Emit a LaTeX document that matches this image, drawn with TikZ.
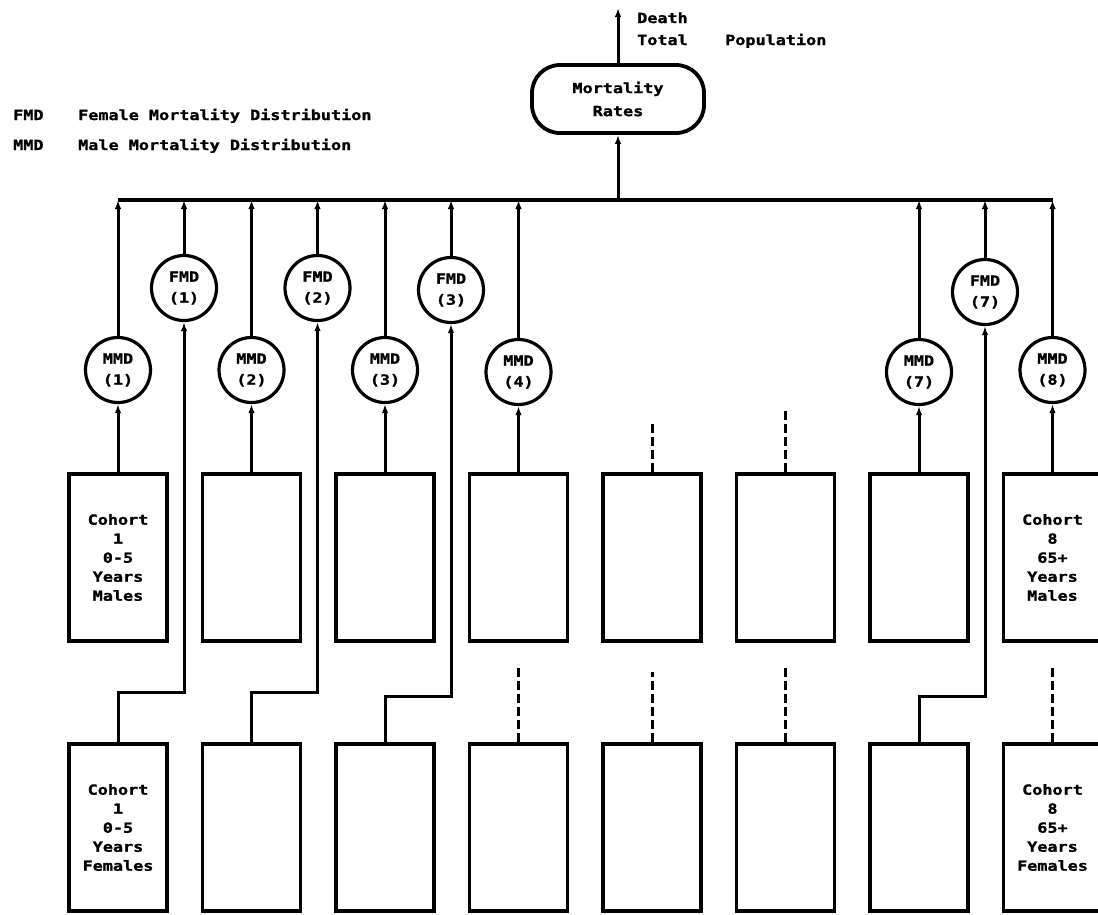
\documentclass[tikz,border=0pt]{standalone}
\usepackage{fontspec}
\newfontfamily\typ{DejaVu Sans Mono}[FakeStretch=1.2,FakeBold=1.2]
\usetikzlibrary{arrows.meta}
\begin{document}
\begin{tikzpicture}[x=1pt,y=-1pt,
  txt/.style={font=\typ\bfseries\fontsize{14}{19}\selectfont, inner sep=0pt},
  cohort/.style={draw, line width=3.8pt, minimum width=98pt, minimum height=167pt,
    inner sep=0pt, align=center, font=\typ\bfseries\fontsize{14}{19}\selectfont},
  dist/.style={draw, circle, line width=3.2pt, minimum size=65pt, inner sep=0pt,
    align=center, font=\typ\bfseries\fontsize{14}{21}\selectfont},
  rates/.style={draw, rectangle, rounded corners=28pt, line width=3.8pt,
    minimum width=172pt, minimum height=68pt, align=center,
    font=\typ\bfseries\fontsize{14}{23}\selectfont},
  link/.style={line width=3pt},
  up/.style={link, -{Latex[length=9pt,width=6.5pt]}},
  brokenline/.style={link, dash pattern=on 9pt off 4pt},
  busline/.style={line width=3.8pt}
  ]
\fill[white] (0,0) rectangle (1098,914);
\clip (0,0) rectangle (1098,914);

% legend
\node[txt, anchor=base west] (lfk) at (13,120) {FMD};
\node[txt, anchor=base west] (lft) at (78,120) {Female Mortality Distribution};
\node[txt, anchor=base west] (lmk) at (13,150) {MMD};
\node[txt, anchor=base west] (lmt) at (78,150) {Male Mortality Distribution};

% mortality rates
\node[rates] (mort) at (618,99) {Mortality\\Rates};
\coordinate (death) at (618,8);
\draw[up] (mort.north) -- (death);
\node[txt, anchor=base west] (tdeath) at (637,23) {Death};
\node[txt, anchor=base west] (ttotal) at (637,45) {Total};
\node[txt, anchor=base west] (tpop) at (725,45) {Population};

% bus
\coordinate (busL) at (118,200);
\coordinate (busR) at (1052.5,200);
\draw[busline] (busL) -- (busR);
\draw[up] (mort.south |- busL) -- (mort.south);

% cohort boxes
\node[cohort] (m1) at (118,557.5) {Cohort\\1\\0-5\\Years\\Males};
\node[cohort] (m2) at (251.5,557.5) {};
\node[cohort] (m3) at (385,557.5) {};
\node[cohort] (m4) at (518.5,557.5) {};
\node[cohort] (m5) at (652,557.5) {};
\node[cohort] (m6) at (785.5,557.5) {};
\node[cohort] (m7) at (919,557.5) {};
\node[cohort] (m8) at (1052.5,557.5) {Cohort\\8\\65+\\Years\\Males};

\node[cohort] (f1) at (118,827.5) {Cohort\\1\\0-5\\Years\\Females};
\node[cohort] (f2) at (251.5,827.5) {};
\node[cohort] (f3) at (385,827.5) {};
\node[cohort] (f4) at (518.5,827.5) {};
\node[cohort] (f5) at (652,827.5) {};
\node[cohort] (f6) at (785.5,827.5) {};
\node[cohort] (f7) at (919,827.5) {};
\node[cohort] (f8) at (1052.5,827.5) {Cohort\\8\\65+\\Years\\Females};

% distribution circles
\node[dist] (mmd1) at (118,370) {MMD\\(1)};
\node[dist] (mmd2) at (251.5,370) {MMD\\(2)};
\node[dist] (mmd3) at (385,370) {MMD\\(3)};
\node[dist] (mmd4) at (518.5,372) {MMD\\(4)};
\node[dist] (mmd7) at (919,372) {MMD\\(7)};
\node[dist] (mmd8) at (1052.5,370) {MMD\\(8)};
\node[dist] (fmd1) at (184,288) {FMD\\(1)};
\node[dist] (fmd2) at (317.5,288) {FMD\\(2)};
\node[dist] (fmd3) at (451,290) {FMD\\(3)};
\node[dist] (fmd7) at (985,292) {FMD\\(7)};

% circles to bus
\foreach \c in {mmd1,mmd2,mmd3,mmd4,mmd7,mmd8,fmd1,fmd2,fmd3,fmd7}
  \draw[up] (\c.north) -- (\c.north |- busL);

% male boxes to MMD
\foreach \i in {1,2,3,4,7,8}
  \draw[up] (m\i.north) -- (mmd\i.south);

% female boxes to FMD
\draw[up] (f1.north) -- ++(0,-50) -| (fmd1.south);
\draw[up] (f2.north) -- ++(0,-50) -| (fmd2.south);
\draw[up] (f3.north) -- ++(0,-46) -| (fmd3.south);
\draw[up] (f7.north) -- ++(0,-46) -| (fmd7.south);

% broken stubs
\draw[brokenline] (m5.north) -- ++(0,-50);
\draw[brokenline] (m6.north) -- ++(0,-62);
\draw[brokenline] (f4.north) -- ++(0,-78);
\draw[brokenline] (f5.north) -- ++(0,-70);
\draw[brokenline] (f6.north) -- ++(0,-76);
\draw[brokenline] (f8.north) -- ++(0,-77);
\end{tikzpicture}
\end{document}
